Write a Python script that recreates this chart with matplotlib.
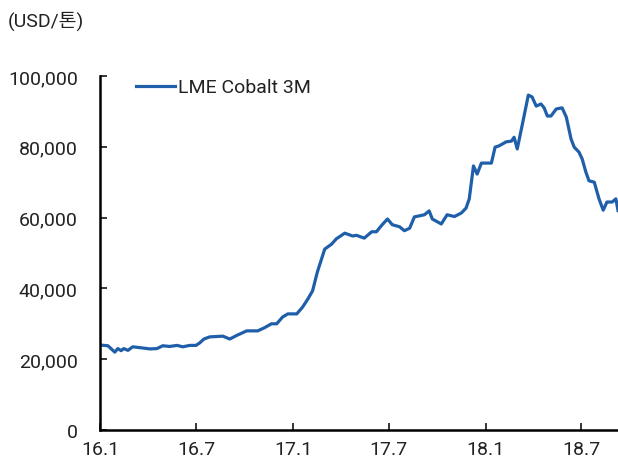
import matplotlib
matplotlib.use("Agg")
import matplotlib.pyplot as plt
from matplotlib.ticker import FuncFormatter, MultipleLocator
import pandas as pd

plt.rcParams['font.family'] = ['Roboto', 'Noto Sans CJK KR', 'DejaVu Sans']

dates = [
    "2016-01-01", "2016-01-16", "2016-01-29", "2016-02-04", "2016-02-10", "2016-02-15",
    "2016-02-23", "2016-03-03", "2016-03-20", "2016-04-05", "2016-04-18", "2016-04-29",
    "2016-05-12", "2016-05-26", "2016-06-06", "2016-06-19", "2016-07-01", "2016-07-08",
    "2016-07-16", "2016-07-27", "2016-08-07", "2016-08-21", "2016-09-03", "2016-09-16",
    "2016-10-05", "2016-10-26", "2016-11-08", "2016-11-21", "2016-12-01", "2016-12-12",
    "2016-12-22", "2017-01-08", "2017-01-19", "2017-01-29", "2017-02-07", "2017-02-16",
    "2017-03-02", "2017-03-15", "2017-03-24", "2017-04-09", "2017-04-24", "2017-05-01",
    "2017-05-16", "2017-05-30", "2017-06-08", "2017-06-19", "2017-06-29", "2017-07-08",
    "2017-07-22", "2017-07-31", "2017-08-10", "2017-08-19", "2017-09-07", "2017-09-16",
    "2017-09-22", "2017-10-09", "2017-10-20", "2017-11-03", "2017-11-16", "2017-11-25",
    "2017-12-01", "2017-12-09", "2017-12-16", "2017-12-24", "2018-01-12", "2018-01-19",
    "2018-01-27", "2018-02-09", "2018-02-19", "2018-02-24", "2018-03-02", "2018-03-13",
    "2018-03-23", "2018-03-30", "2018-04-07", "2018-04-16", "2018-04-22", "2018-04-28",
    "2018-05-05", "2018-05-15", "2018-05-26", "2018-06-03", "2018-06-12", "2018-06-18",
    "2018-06-27", "2018-07-03", "2018-07-10", "2018-07-16", "2018-07-26", "2018-08-04",
    "2018-08-12", "2018-08-19", "2018-08-29", "2018-09-05", "2018-09-09",
]
cobalt = [
    24000, 23800, 22000, 23000, 22400, 23000,
    22500, 23500, 23200, 22900, 23000, 23800,
    23600, 23900, 23500, 23900, 23900, 24600,
    25700, 26300, 26400, 26500, 25700, 26700,
    28000, 28000, 28900, 30000, 30000, 31900,
    32800, 32800, 34700, 37000, 39300, 44600,
    51100, 52500, 54000, 55600, 54800, 55000,
    54200, 56000, 56000, 58000, 59600, 58000,
    57400, 56300, 57000, 60200, 60800, 61900,
    59600, 58200, 60800, 60300, 61300, 62700,
    65300, 74600, 72300, 75400, 75400, 79900,
    80300, 81400, 81600, 82700, 79400, 87300,
    94600, 94100, 91500, 92100, 91000, 88700,
    88700, 90700, 91000, 88400, 82200, 79900,
    78500, 76600, 72900, 70400, 70000, 65300,
    62100, 64400, 64400, 65300, 62000,
]
tick_dates = ["2016-01-01", "2016-07-01", "2017-01-01", "2017-07-01", "2018-01-01", "2018-07-01"]
tick_labels = ["16.1", "16.7", "17.1", "17.7", "18.1", "18.7"]
series_name = "LME Cobalt 3M"
unit_label = "(USD/톤)"

text_color = "#222222"
x = pd.to_datetime(dates)
fig = plt.figure(figsize=(6.18, 4.64), dpi=100)
ax = fig.add_axes([100/618, 1-431/464, 518/618, (431-77)/464])

color = "#1F5FAA"
ax.plot(x, cobalt, color=color, lw=2.3, label=series_name, solid_joinstyle='round')

ax.set_ylim(0, 100000)
ax.set_xlim(pd.Timestamp("2016-01-01"), pd.Timestamp("2018-09-09"))
ax.yaxis.set_major_locator(MultipleLocator(20000))
ax.yaxis.set_major_formatter(FuncFormatter(lambda v, p: f"{int(v):,}"))
ax.set_xticks(pd.to_datetime(tick_dates))
ax.set_xticklabels(tick_labels)

for s in ["top", "right"]:
    ax.spines[s].set_visible(False)
for s in ["left", "bottom"]:
    ax.spines[s].set_linewidth(1.8)
    ax.spines[s].set_color("black")

ax.tick_params(axis="y", direction="in", length=5, width=1.1, pad=16, labelsize=14, labelcolor=text_color)
ax.tick_params(axis="x", direction="in", length=5, width=1.1, pad=7, labelsize=14, labelcolor=text_color)

leg = ax.legend(loc="upper left", bbox_to_anchor=(0.055, 1.015), frameon=False,
                fontsize=14, handlelength=2.0, handletextpad=0.15, borderaxespad=0,
                labelcolor=text_color)

fig.text(8/618, 1-21/464, unit_label, fontsize=14, va="center", ha="left", color=text_color)

fig.savefig("out.png", dpi=100)
